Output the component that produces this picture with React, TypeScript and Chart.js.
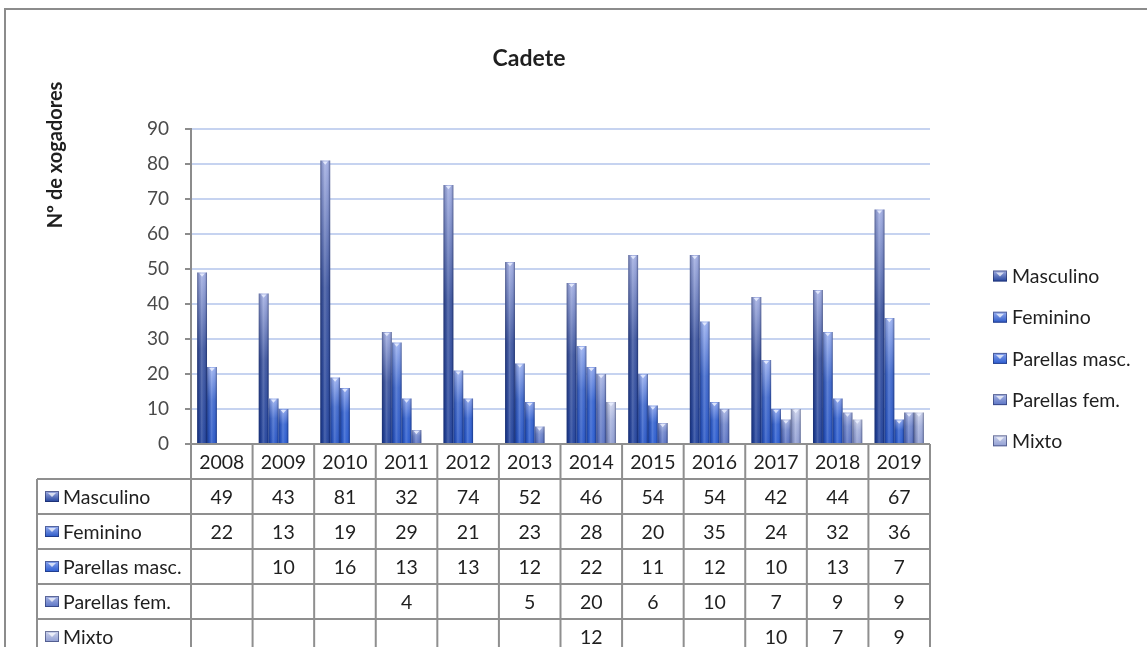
import React, { useEffect, useRef } from "react";
import { Chart, registerables } from "chart.js";

Chart.register(...registerables);

const years = ["2008", "2009", "2010", "2011", "2012", "2013", "2014", "2015", "2016", "2017", "2018", "2019"];
const seriesNames = ["Masculino", "Feminino", "Parellas masc.", "Parellas fem.", "Mixto"];
const masculino = [49, 43, 81, 32, 74, 52, 46, 54, 54, 42, 44, 67];
const feminino = [22, 13, 19, 29, 21, 23, 28, 20, 35, 24, 32, 36];
const parellasMasc = [null, 10, 16, 13, 13, 12, 22, 11, 12, 10, 13, 7];
const parellasFem = [null, null, null, 4, null, 5, 20, 6, 10, 7, 9, 9];
const mixto = [null, null, null, null, null, null, 12, null, null, 10, 7, 9];
const yMin = 0;
const yMax = 90;
const yStep = 10;
const chartTitle = "Cadete";
const yAxisTitle = "Nº de xogadores";

const seriesValues: (number | null)[][] = [masculino, feminino, parellasMasc, parellasFem, mixto];

const palettes = [
  { top: "#a2aee2", mid: "#3d559f", bottom: "#21429c" },
  { top: "#9ab0f0", mid: "#3f68cc", bottom: "#2856c6" },
  { top: "#8aa3ec", mid: "#3563d0", bottom: "#295bd0" },
  { top: "#aab6e4", mid: "#7086cc", bottom: "#5a73c4" },
  { top: "#cdd3ec", mid: "#a4b0dc", bottom: "#8f9dd2" },
];

const FONT = "Lato, 'Noto Sans', sans-serif";
const TEXT = "#1f1f1f";
const LINE = "#8f8f8f";

function drawBar(ctx: CanvasRenderingContext2D, x0: number, x1: number, yTop: number, yBase: number, pal: any) {
  const w = x1 - x0;
  const h = yBase - yTop;
  if (h < 0.5) return;
  const vg = ctx.createLinearGradient(0, yTop, 0, yBase);
  vg.addColorStop(0, pal.top);
  vg.addColorStop(0.45, pal.mid);
  vg.addColorStop(1, pal.bottom);
  ctx.fillStyle = vg;
  ctx.fillRect(x0, yTop, w, h);
  const hg = ctx.createLinearGradient(x0, 0, x1, 0);
  hg.addColorStop(0, "rgba(10,20,60,0.45)");
  hg.addColorStop(0.2, "rgba(10,20,60,0.12)");
  hg.addColorStop(0.45, "rgba(255,255,255,0.18)");
  hg.addColorStop(0.7, "rgba(255,255,255,0.05)");
  hg.addColorStop(0.88, "rgba(10,20,60,0.15)");
  hg.addColorStop(1, "rgba(10,20,60,0.5)");
  ctx.fillStyle = hg;
  ctx.fillRect(x0, yTop, w, h);
  ctx.fillStyle = "rgba(235,240,255,0.85)";
  ctx.beginPath();
  ctx.moveTo(x0 + w * 0.22, yTop + 1);
  ctx.lineTo(x1 - w * 0.22, yTop + 1);
  ctx.lineTo(x0 + w / 2, yTop + 1 + w * 0.33);
  ctx.closePath();
  ctx.fill();
}

function drawIcon(ctx: CanvasRenderingContext2D, x: number, yc: number, pal: any) {
  const w = 14, h = 11;
  const y = yc - h / 2;
  const g = ctx.createLinearGradient(0, y, 0, y + h);
  g.addColorStop(0, pal.top);
  g.addColorStop(1, pal.bottom);
  ctx.fillStyle = g;
  ctx.fillRect(x, y, w, h);
  ctx.strokeStyle = "rgba(20,30,80,0.5)";
  ctx.lineWidth = 1;
  ctx.strokeRect(x + 0.5, y + 0.5, w - 1, h - 1);
  ctx.fillStyle = "rgba(255,255,255,0.7)";
  ctx.beginPath();
  ctx.moveTo(x + 3, y + 2);
  ctx.lineTo(x + w - 3, y + 2);
  ctx.lineTo(x + w / 2, y + 6);
  ctx.closePath();
  ctx.fill();
}

const customPlugin = {
  id: "excelLook",
  beforeDraw(chart: any) {
    const ctx: CanvasRenderingContext2D = chart.ctx;
    ctx.save();
    ctx.fillStyle = "#ffffff";
    ctx.fillRect(0, 0, chart.width, chart.height);
    // outer frame
    ctx.strokeStyle = "#8c8c8c";
    ctx.lineWidth = 2;
    ctx.beginPath();
    ctx.moveTo(5, chart.height + 5);
    ctx.lineTo(5, 9);
    ctx.lineTo(chart.width + 5, 9);
    ctx.stroke();
    // title
    ctx.fillStyle = TEXT;
    ctx.font = `bold 23px ${FONT}`;
    ctx.textAlign = "center";
    ctx.textBaseline = "middle";
    ctx.fillText(chartTitle, 529, 59);
    // y title
    ctx.save();
    ctx.translate(56, 155);
    ctx.rotate(-Math.PI / 2);
    ctx.font = `bold 20px ${FONT}`;
    ctx.fillText(yAxisTitle, 0, 0);
    ctx.restore();
    // legend
    ctx.font = `19.5px ${FONT}`;
    ctx.textAlign = "left";
    seriesNames.forEach((name, i) => {
      const yc = 276 + i * 41.2;
      drawIcon(ctx, 993, yc, palettes[i]);
      ctx.fillStyle = TEXT;
      ctx.fillText(name, 1012, yc + 1);
    });
    ctx.restore();
  },
  afterDatasetsDraw(chart: any) {
    const ctx: CanvasRenderingContext2D = chart.ctx;
    ctx.save();
    chart.data.datasets.forEach((ds: any, di: number) => {
      const meta = chart.getDatasetMeta(di);
      meta.data.forEach((el: any, i: number) => {
        const v = ds.data[i];
        if (v === null || v === undefined) return;
        const p = el.getProps(["x", "y", "base", "width"], true);
        drawBar(ctx, p.x - p.width / 2, p.x + p.width / 2, p.y, p.base, palettes[di]);
      });
    });
    ctx.restore();
  },
  afterDraw(chart: any) {
    const ctx: CanvasRenderingContext2D = chart.ctx;
    const xs = chart.scales.x;
    const ys = chart.scales.y;
    const area = chart.chartArea;
    const y0 = ys.getPixelForValue(0);
    const rowH = 35;
    const tableLeft = 37;
    const n = years.length;
    const cw = (area.right - area.left) / n;
    ctx.save();
    ctx.strokeStyle = LINE;
    ctx.lineWidth = 2;
    ctx.beginPath();
    ctx.moveTo(area.left - 6, y0);
    ctx.lineTo(area.right, y0);
    for (let r = 1; r <= 5; r++) {
      ctx.moveTo(tableLeft, y0 + r * rowH);
      ctx.lineTo(area.right, y0 + r * rowH);
    }
    for (let i = 0; i <= n; i++) {
      const x = area.left + i * cw;
      ctx.moveTo(x, y0);
      ctx.lineTo(x, chart.height + 5);
    }
    ctx.moveTo(tableLeft, y0 + rowH);
    ctx.lineTo(tableLeft, chart.height + 5);
    ctx.stroke();
    ctx.fillStyle = TEXT;
    ctx.font = `19.5px ${FONT}`;
    ctx.textAlign = "center";
    ctx.textBaseline = "middle";
    years.forEach((yr, i) => {
      const xc = xs.getPixelForValue(i);
      ctx.fillText(yr, xc, y0 + rowH / 2 + 1);
    });
    seriesNames.forEach((name, r) => {
      const yc = y0 + rowH * (r + 1) + rowH / 2;
      drawIcon(ctx, 45, yc, palettes[r]);
      ctx.fillStyle = TEXT;
      ctx.textAlign = "left";
      ctx.fillText(name, 63, yc + 1);
      ctx.textAlign = "center";
      seriesValues[r].forEach((v, i) => {
        if (v === null) return;
        ctx.fillText(String(v), xs.getPixelForValue(i), yc + 1);
      });
    });
    ctx.restore();
  },
};

export default function App() {
  const ref = useRef<HTMLCanvasElement>(null);
  useEffect(() => {
    if (!ref.current) return;
    const chart = new Chart(ref.current, {
      type: "bar",
      data: {
        labels: years,
        datasets: seriesNames.map((name, i) => ({
          label: name,
          data: seriesValues[i],
          backgroundColor: "rgba(0,0,0,0)",
          borderWidth: 0,
          categoryPercentage: 0.8,
          barPercentage: 1.0,
        })),
      },
      options: {
        responsive: false,
        animation: false,
        devicePixelRatio: 1,
        events: [],
        layout: { padding: { left: 0, top: 129, right: 217, bottom: 203 } },
        plugins: { legend: { display: false }, title: { display: false }, tooltip: { enabled: false } },
        scales: {
          x: { display: false, offset: true, grid: { display: false } },
          y: {
            min: yMin,
            max: yMax,
            ticks: { stepSize: yStep, color: "#4a4a4a", font: { family: FONT, size: 19 }, padding: 16 },
            grid: { color: "#c6d3f0", lineWidth: 2, tickColor: "#8c8c8c", tickLength: 6, drawTicks: true },
            border: { color: "#8c8c8c", width: 2 },
            afterFit: (s: any) => {
              s.width = 191;
            },
          },
        },
      },
      plugins: [customPlugin],
    });
    return () => chart.destroy();
  }, []);
  return (
    <div style={{ position: "absolute", left: 0, top: 0, width: 1147, height: 647 }}>
      <canvas ref={ref} width={1147} height={647} style={{ display: "block" }} />
    </div>
  );
}
